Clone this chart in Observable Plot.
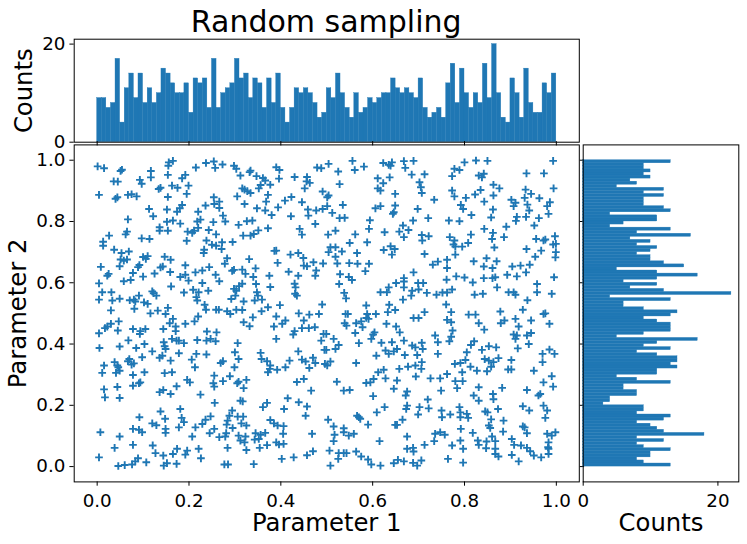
<!DOCTYPE html>
<html><head><meta charset="utf-8">
<script src="https://cdn.jsdelivr.net/npm/d3@7"></script>
<script src="https://cdn.jsdelivr.net/npm/@observablehq/plot@0.6"></script>
<style>
html,body{margin:0;padding:0;background:#fff;}
#chart{position:relative;width:747px;height:544px;overflow:hidden;font-family:"DejaVu Sans",sans-serif;}
#chart svg{position:absolute;left:0;top:0;}
#title{position:absolute;left:73.7px;width:505px;top:4px;text-align:center;font-size:30px;line-height:36px;color:#000;}
</style></head><body>
<div id="chart"><div id="title">Random sampling</div></div>
<script>
const titleText = "Random sampling";
const xLabel = "Parameter 1", yLabel = "Parameter 2", countLabel = "Counts";
const paramTicks = [0, 0.2, 0.4, 0.6, 0.8, 1.0];
const countTicks = [0, 20];
const binCount = 100;
// histogram of parameter 1, left to right
const countsParam1 = [9,9,7,8,17,4,11,14,9,14,8,11,8,10,15,14,12,10,10,12,6,13,12,13,7,17,7,10,11,12,17,13,14,9,13,12,7,13,8,14,7,4,7,11,10,11,10,8,5,6,11,9,14,10,7,5,10,6,7,9,8,9,10,10,13,11,10,11,10,9,13,7,5,6,7,5,12,16,8,15,10,7,10,8,16,9,20,10,5,4,13,10,5,15,8,6,6,12,10,14];
// histogram of parameter 2, top to bottom
const countsParam2 = [13,9,9,10,9,10,7,8,5,12,9,12,9,9,9,12,13,4,11,11,6,4,13,8,16,7,10,8,11,10,8,10,10,12,15,5,11,17,11,6,11,7,12,22,4,13,6,6,9,14,13,9,11,13,13,13,9,5,17,11,9,13,8,11,14,14,13,14,11,11,5,8,13,6,6,8,8,4,4,3,9,9,8,13,12,8,10,11,12,18,8,12,8,9,13,10,10,8,9,13];
// sample points [parameter 1, parameter 2]
const samplesUpperLeft = [[.001,.980],[.015,.974],[.051,.965],[.054,.969],[.036,.931],[.045,.930],[.004,.887],[.040,.874],[.044,.879],[.067,.887],[.075,.889],[.086,.882],[.093,.936],[.097,.923],[.117,.965],[.117,.944],[.154,.952],[.156,.993],[.165,.998],[.155,.982],[.215,.976],[.237,.991],[.254,.996],[.257,.975],[.273,.986],[.298,.982],[.303,.972],[.312,.950],[.334,.966],[.332,.961],[.347,.948],[.361,.942],[.366,.934],[.377,.920],[.390,.977],[.397,.968],[.396,.940],[.430,.945],[.457,.945],[.456,.931],[.463,.926],[.452,.908],[.479,.976],[.488,.974],[.491,.898],[.192,.952],[.185,.941],[.199,.917],[.195,.890],[.163,.917],[.175,.910],[.134,.906],[.138,.910],[.154,.880],[.305,.882],[.316,.908],[.321,.904],[.327,.899],[.334,.893],[.356,.919],[.352,.908],[.372,.887],[.368,.865],[.254,.879],[.266,.865],[.255,.857],[.266,.844],[.236,.852],[.321,.857],[.348,.843],[.394,.846],[.409,.868],[.423,.880],[.446,.863],[.459,.839],[.477,.836],[.491,.841],[.113,.841],[.152,.839],[.185,.854],[.180,.843],[.174,.832],[.220,.832],[.122,.817],[.067,.807],[.152,.799],[.165,.803],[.181,.793],[.218,.800],[.225,.806],[.253,.798],[.274,.819],[.279,.800],[.308,.789],[.326,.801],[.338,.803],[.372,.778],[.366,.836],[.380,.821],[.422,.817],[.460,.819],[.475,.792],[.441,.776],[.446,.757],[.136,.781],[.136,.770],[.154,.770],[.220,.779],[.197,.767],[.207,.763],[.211,.770],[.243,.772],[.259,.758],[.351,.771],[.341,.759],[.334,.754],[.318,.754],[.065,.767],[.062,.758],[.026,.754],[.013,.734],[.013,.721],[.097,.745],[.114,.743],[.195,.737],[.238,.738],[.250,.724],[.259,.721],[.272,.732],[.271,.710],[.233,.708],[.232,.697],[.295,.733],[.037,.708],[.053,.697],[.069,.702],[.051,.676],[.065,.676],[.058,.672],[.049,.654],[.100,.684],[.110,.687],[.106,.678],[.147,.685],[.160,.675],[.192,.657],[.283,.680],[.278,.662],[.331,.677],[.386,.704],[.390,.705],[.421,.692],[.438,.697],[.449,.681],[.471,.667],[.492,.663],[.393,.665],[.450,.656],[.457,.654],[.008,.652],[.025,.629],[.022,.623],[.092,.658],[.089,.651],[.078,.632],[.100,.620],[.125,.630],[.138,.650],[.143,.653],[.159,.635],[.181,.619],[.192,.626],[.199,.607],[.214,.634],[.229,.640],[.244,.651],[.258,.626],[.266,.605],[.294,.639],[.298,.642],[.316,.643],[.323,.629],[.340,.619],[.345,.647],[.375,.623],[.417,.636],[.438,.623],[.477,.640],[.475,.623],[.004,.598],[.058,.605],[.073,.609],[.161,.588],[.229,.599],[.316,.597],[.309,.589],[.298,.580],[.346,.596],[.377,.586],[.430,.597],[.432,.585],[.011,.569],[.031,.569],[.004,.545],[.033,.542],[.049,.548],[.071,.543],[.080,.545],[.091,.558],[.083,.539],[.102,.536],[.110,.531],[.120,.572],[.123,.566],[.129,.558],[.189,.568],[.209,.577],[.221,.569],[.242,.574],[.218,.542],[.216,.553],[.234,.528],[.303,.574],[.292,.547],[.301,.558],[.348,.569],[.350,.558],[.343,.542],[.359,.545],[.319,.539],[.431,.564],[.435,.558],[.490,.529],[.030,.510],[.081,.515],[.116,.500],[.132,.509],[.154,.518],[.149,.498],[.237,.512],[.259,.512],[.265,.512],[.283,.507],[.290,.498],[.303,.512],[.316,.511],[.358,.507],[.372,.520],[.398,.527],[.439,.500],[.462,.496],[.483,.498]];
const samplesLowerLeft = [[.165,.482],[.158,.468],[.171,.457],[.192,.466],[.171,.442],[.220,.490],[.212,.474],[.339,.487],[.319,.471],[.332,.458],[.390,.490],[.410,.477],[.403,.466],[.385,.457],[.450,.477],[.446,.452],[.461,.452],[.474,.455],[.430,.442],[.427,.431],[.493,.433],[.488,.411],[.495,.381],[.047,.474],[.030,.466],[.022,.457],[.017,.452],[.004,.435],[.045,.444],[.078,.449],[.105,.449],[.093,.433],[.144,.449],[.094,.442],[.239,.441],[.260,.438],[.218,.413],[.238,.411],[.247,.417],[.258,.409],[.068,.412],[.005,.387],[.049,.392],[.085,.387],[.103,.400],[.145,.406],[.163,.417],[.173,.411],[.189,.403],[.178,.411],[.147,.393],[.149,.384],[.120,.376],[.306,.403],[.300,.373],[.308,.351],[.390,.417],[.438,.376],[.356,.371],[.358,.351],[.370,.344],[.377,.330],[.392,.316],[.376,.319],[.372,.308],[.410,.324],[.419,.346],[.446,.349],[.454,.343],[.470,.355],[.475,.338],[.462,.322],[.496,.335],[.178,.370],[.216,.368],[.238,.366],[.206,.349],[.213,.324],[.160,.346],[.136,.355],[.142,.362],[.098,.357],[.070,.351],[.067,.344],[.075,.333],[.080,.337],[.015,.330],[.011,.306],[.038,.341],[.044,.330],[.046,.324],[.049,.313],[.041,.306],[.078,.299],[.103,.308],[.147,.305],[.163,.308],[.269,.338],[.274,.344],[.299,.324],[.255,.297],[.253,.272],[.255,.261],[.274,.279],[.289,.295],[.305,.272],[.308,.277],[.325,.283],[.319,.256],[.078,.264],[.091,.272],[.094,.275],[.044,.260],[.015,.252],[.017,.226],[.049,.224],[.173,.262],[.196,.283],[.202,.275],[.136,.243],[.144,.250],[.160,.237],[.225,.235],[.256,.208],[.312,.215],[.317,.213],[.415,.223],[.370,.208],[.361,.194],[.407,.188],[.439,.210],[.457,.196],[.454,.166],[.466,.248],[.435,.276],[.450,.286],[.181,.188],[.138,.180],[.092,.161],[.148,.156],[.184,.159],[.189,.145],[.178,.128],[.120,.141],[.129,.135],[.214,.128],[.229,.139],[.236,.153],[.247,.164],[.294,.183],[.288,.166],[.284,.150],[.282,.137],[.306,.163],[.318,.163],[.377,.152],[.385,.141],[.393,.134],[.406,.132],[.314,.141],[.325,.134],[.295,.126],[.078,.123],[.091,.120],[.098,.112],[.149,.123],[.149,.110],[.007,.112],[.049,.098],[.255,.123],[.245,.109],[.281,.109],[.266,.096],[.279,.098],[.308,.101],[.323,.098],[.312,.085],[.321,.079],[.345,.109],[.366,.110],[.356,.104],[.352,.090],[.343,.088],[.405,.107],[.468,.107],[.390,.079],[.396,.072],[.406,.074],[.370,.070],[.354,.061],[.284,.061],[.325,.054],[.207,.098],[.038,.061],[.078,.071],[.121,.069],[.127,.044],[.144,.036],[.165,.041],[.174,.058],[.196,.052],[.192,.039],[.221,.058],[.226,.027],[.004,.030],[.089,.027],[.083,.017],[.046,.002],[.060,.005],[.076,.007],[.107,.014],[.145,.003],[.152,.011],[.173,.009],[.277,.007],[.285,.007],[.341,.008],[.402,.025],[.428,.030],[.457,.037],[.470,.050]];
const samplesUpperRight = [[.504,.988],[.556,.998],[.581,.979],[.561,.968],[.525,.963],[.528,.922],[.623,.991],[.635,.985],[.642,.993],[.639,.982],[.668,.997],[.671,.975],[.689,.998],[.685,.953],[.713,.954],[.637,.944],[.611,.941],[.623,.925],[.611,.908],[.617,.901],[.702,.928],[.705,.912],[.707,.893],[.649,.890],[.504,.885],[.501,.879],[.734,.871],[.800,.993],[.825,.999],[.850,.998],[.778,.972],[.789,.968],[.773,.948],[.831,.950],[.838,.944],[.842,.956],[.863,.920],[.876,.908],[.835,.903],[.773,.901],[.778,.882],[.803,.877],[.823,.888],[.863,.885],[.843,.865],[.935,.957],[.973,.957],[.993,.998],[.994,.908],[.933,.904],[.945,.890],[.931,.877],[.963,.876],[.902,.871],[.911,.861],[.907,.850],[.937,.855],[.941,.836],[.986,.863],[.980,.850],[.983,.825],[.501,.850],[.512,.828],[.535,.854],[.606,.843],[.617,.850],[.649,.852],[.698,.841],[.646,.830],[.644,.825],[.528,.811],[.539,.812],[.594,.804],[.592,.776],[.688,.803],[.721,.811],[.766,.803],[.789,.801],[.792,.854],[.797,.841],[.815,.821],[.862,.839],[.858,.813],[.914,.815],[.912,.802],[.934,.815],[.962,.811],[.952,.787],[.891,.783],[.843,.776],[.862,.763],[.860,.743],[.886,.749],[.814,.757],[.666,.787],[.678,.772],[.658,.767],[.668,.749],[.626,.765],[.562,.758],[.519,.770],[.503,.757],[.707,.756],[.722,.752],[.708,.738],[.768,.749],[.778,.738],[.776,.725],[.780,.718],[.808,.730],[.795,.718],[.865,.715],[.956,.743],[.972,.738],[.976,.741],[.997,.752],[.999,.727],[.993,.725],[.588,.732],[.550,.730],[.508,.716],[.519,.716],[.504,.700],[.533,.702],[.519,.685],[.566,.697],[.624,.707],[.639,.719],[.648,.710],[.642,.692],[.713,.694],[.780,.692],[.935,.710],[.967,.705],[.954,.685],[.999,.700],[.998,.683],[.523,.663],[.549,.664],[.567,.662],[.592,.662],[.584,.638],[.742,.669],[.731,.659],[.762,.675],[.762,.648],[.820,.670],[.848,.680],[.870,.670],[.842,.653],[.861,.648],[.904,.653],[.922,.656],[.942,.659],[.934,.634],[.689,.634],[.529,.628],[.548,.619],[.555,.609],[.527,.596],[.668,.615],[.651,.599],[.635,.585],[.668,.604],[.668,.585],[.699,.599],[.710,.599],[.700,.578],[.686,.574],[.684,.558],[.718,.567],[.739,.561],[.752,.568],[.762,.568],[.773,.578],[.761,.610],[.782,.621],[.800,.617],[.818,.601],[.842,.615],[.861,.615],[.867,.618],[.871,.585],[.893,.626],[.914,.621],[.896,.569],[.907,.569],[.911,.561],[.958,.596],[.958,.569],[.995,.618],[.990,.564],[.822,.561],[.840,.564],[.538,.567],[.542,.549],[.617,.569],[.631,.569],[.666,.545],[.937,.543],[.586,.526],[.636,.528],[.760,.529],[.927,.512],[.649,.511]];
const samplesLowerRight = [[.541,.498],[.546,.498],[.588,.498],[.607,.498],[.633,.504],[.586,.485],[.689,.485],[.700,.485],[.713,.504],[.771,.504],[.809,.496],[.824,.496],[.878,.506],[.911,.482],[.972,.498],[.976,.500],[.539,.468],[.543,.460],[.564,.468],[.575,.474],[.591,.482],[.578,.455],[.562,.436],[.630,.466],[.651,.457],[.659,.438],[.604,.438],[.601,.431],[.597,.417],[.762,.479],[.771,.471],[.831,.468],[.843,.447],[.879,.468],[.887,.477],[.945,.477],[.918,.457],[.985,.466],[.499,.433],[.515,.417],[.570,.403],[.526,.397],[.519,.384],[.499,.381],[.619,.404],[.642,.406],[.668,.411],[.628,.379],[.635,.368],[.653,.384],[.646,.376],[.608,.362],[.670,.364],[.697,.364],[.686,.395],[.693,.389],[.707,.404],[.709,.384],[.736,.428],[.742,.406],[.774,.444],[.771,.424],[.767,.409],[.742,.368],[.805,.373],[.814,.397],[.821,.409],[.838,.381],[.853,.393],[.869,.389],[.907,.431],[.914,.428],[.911,.417],[.936,.428],[.945,.436],[.940,.400],[.916,.386],[.844,.351],[.853,.346],[.874,.354],[.863,.341],[.858,.326],[.902,.348],[.895,.317],[.902,.317],[.970,.368],[.970,.341],[.985,.382],[.996,.368],[.951,.313],[.990,.295],[.972,.275],[.993,.261],[.508,.343],[.564,.338],[.501,.330],[.779,.335],[.791,.338],[.802,.348],[.813,.326],[.827,.313],[.849,.311],[.707,.341],[.693,.330],[.677,.326],[.658,.319],[.706,.319],[.624,.316],[.612,.308],[.602,.286],[.595,.275],[.586,.273],[.628,.288],[.653,.281],[.694,.294],[.726,.288],[.747,.288],[.762,.302],[.795,.308],[.780,.279],[.796,.279],[.784,.256],[.831,.259],[.522,.277],[.537,.248],[.550,.250],[.646,.254],[.675,.245],[.672,.232],[.601,.230],[.749,.248],[.720,.219],[.820,.232],[.831,.215],[.862,.237],[.863,.220],[.882,.257],[.936,.250],[.965,.237],[.961,.232],[.873,.188],[.927,.197],[.941,.183],[.972,.199],[.980,.183],[.976,.159],[.845,.180],[.850,.177],[.858,.154],[.885,.150],[.789,.194],[.791,.177],[.791,.161],[.805,.172],[.808,.159],[.769,.170],[.750,.183],[.751,.161],[.675,.199],[.673,.188],[.702,.194],[.722,.190],[.699,.170],[.626,.194],[.609,.177],[.566,.166],[.573,.156],[.570,.161],[.590,.137],[.503,.153],[.515,.131],[.537,.125],[.517,.104],[.537,.112],[.548,.101],[.559,.107],[.515,.083],[.506,.052],[.665,.153],[.653,.136],[.649,.136],[.792,.123],[.818,.110],[.853,.134],[.856,.126],[.860,.098],[.884,.114],[.927,.131],[.936,.109],[.931,.128],[.980,.107],[.990,.101],[.998,.112],[.675,.098],[.615,.083],[.734,.083],[.736,.107],[.747,.112],[.757,.104],[.791,.085],[.829,.085],[.831,.071],[.848,.082],[.847,.060],[.867,.083],[.867,.058],[.773,.069],[.797,.058],[.713,.071],[.675,.058],[.688,.061],[.689,.049],[.903,.090],[.903,.038],[.908,.071],[.923,.069],[.936,.061],[.943,.050],[.951,.036],[.918,.017],[.967,.030],[.983,.041],[.983,.079],[.982,.063],[.983,.058],[.867,.041],[.874,.033],[.564,.049],[.575,.033],[.590,.023],[.597,.007],[.617,.003],[.646,.011],[.655,.022],[.668,.017],[.688,.012],[.697,.003],[.706,.020],[.764,.025],[.797,.013],[.508,.003],[.526,.044],[.525,.025],[.537,.044],[.543,.044]];

const samples = [...samplesUpperLeft, ...samplesLowerLeft, ...samplesUpperRight, ...samplesLowerRight];
const blue = "#1f77b4";
const W = 747, H = 544;
const tickFont = 18.3, labelFont = 24.3;
const tickLen = 4.3;
const paramDomain = [-0.05, 1.05];
const common = {width: W, height: H, style: {background: "transparent", fontFamily: "DejaVu Sans", overflow: "visible"}};
const edgeX = d3.range(binCount).map(i => ({a: i / binCount, b: (i + 1) / binCount, c: countsParam1[i]}));
const edgeY = d3.range(binCount).map(i => ({a: 1 - (i + 1) / binCount, b: 1 - i / binCount, c: countsParam2[i]}));
const blank = () => "";
const seam = {stroke: blue, strokeWidth: 0.35};

const topPlot = Plot.plot({...common,
  marginLeft: 73.7, marginRight: 168.2, marginTop: 38.7, marginBottom: 402.3,
  x: {domain: paramDomain},
  y: {domain: [0, 21]},
  marks: [
    Plot.rect(edgeX, {x1: "a", x2: "b", y1: 0, y2: "c", fill: blue, ...seam}),
    Plot.frame({stroke: "#000", strokeWidth: 1}),
    Plot.axisY({ticks: countTicks, tickSize: tickLen, tickPadding: 4.5, fontSize: tickFont, label: null, tickFormat: d3.format("d"), stroke: "#000"}),
    Plot.axisX({ticks: [], label: null}),
    Plot.text([countLabel], {frameAnchor: "left", dx: -49.7, rotate: -90, fontSize: labelFont, textAnchor: "middle", lineAnchor: "middle", fill: "#000"})
  ]
});

const mainPlot = Plot.plot({...common,
  marginLeft: 73.7, marginRight: 168.2, marginTop: 144.4, marginBottom: 62.6,
  x: {domain: paramDomain},
  y: {domain: paramDomain},
  marks: [
    Plot.dot(samples, {x: d => d[0], y: d => d[1], symbol: "plus", r: 2.6, stroke: blue, strokeWidth: 1.9}),
    Plot.frame({stroke: "#000", strokeWidth: 1}),
    Plot.axisX({ticks: paramTicks, tickSize: tickLen, tickPadding: 8, fontSize: tickFont, label: null, tickFormat: d3.format(".1f"), stroke: "#000"}),
    Plot.axisX({anchor: "top", ticks: paramTicks, tickSize: tickLen, label: null, tickFormat: blank, stroke: "#000"}),
    Plot.axisY({ticks: paramTicks, tickSize: tickLen, tickPadding: 4.5, fontSize: tickFont, label: null, tickFormat: d3.format(".1f"), stroke: "#000"}),
    Plot.axisY({anchor: "right", ticks: paramTicks, tickSize: tickLen, label: null, tickFormat: blank, stroke: "#000"}),
    Plot.text([xLabel], {frameAnchor: "bottom", dy: 41.5, fontSize: labelFont, textAnchor: "middle", lineAnchor: "middle", fill: "#000"}),
    Plot.text([yLabel], {frameAnchor: "left", dx: -55.7, rotate: -90, fontSize: labelFont, textAnchor: "middle", lineAnchor: "middle", fill: "#000"})
  ]
});

const rightPlot = Plot.plot({...common,
  marginLeft: 582.7, marginRight: 8.7, marginTop: 144.4, marginBottom: 62.6,
  x: {domain: [0, 23.1]},
  y: {domain: paramDomain},
  marks: [
    Plot.rect(edgeY, {x1: 0, x2: "c", y1: "a", y2: "b", fill: blue, ...seam}),
    Plot.frame({stroke: "#000", strokeWidth: 1}),
    Plot.axisX({ticks: countTicks, tickSize: tickLen, tickPadding: 8, fontSize: tickFont, label: null, tickFormat: d3.format("d"), stroke: "#000"}),
    Plot.axisY({ticks: [], label: null}),
    Plot.text([countLabel], {frameAnchor: "bottom", dy: 41.5, fontSize: labelFont, textAnchor: "middle", lineAnchor: "middle", fill: "#000"})
  ]
});

const chart = document.getElementById("chart");
document.getElementById("title").textContent = titleText;
chart.append(topPlot, mainPlot, rightPlot);
</script>
</body></html>
